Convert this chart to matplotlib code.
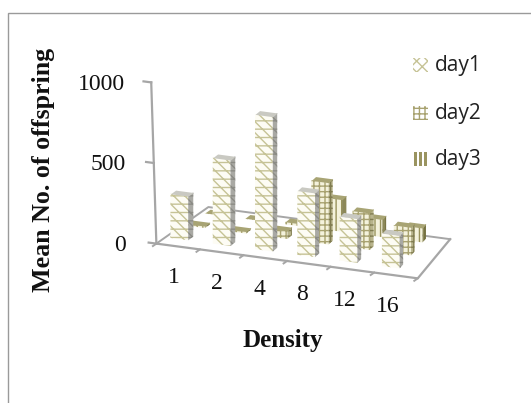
import matplotlib
matplotlib.use("Agg")
import matplotlib.pyplot as plt
from matplotlib.patches import Rectangle
from mpl_toolkits.mplot3d.art3d import Poly3DCollection

categories = ["1", "2", "4", "8", "12", "16"]
series_names = ["day1", "day2", "day3"]
day1 = [275, 535, 840, 400, 275, 205]
day2 = [12, 12, 50, 385, 230, 175]
day3 = [4, 4, 15, 200, 110, 90]
yticks = [0, 500, 1000]

W, H = 531, 403
plt.rcParams["hatch.linewidth"] = 1.0
fig = plt.figure(figsize=(W/100, H/100), dpi=100)
fig.patch.set_facecolor("white")
fig.add_artist(Rectangle((8/W, -0.01), 540/W, 1 - 13/H + 0.01, transform=fig.transFigure,
                         fill=False, ec="#9a9a9a", lw=1.0))

S = 560
cx, cy = 305.5, 170
ax = fig.add_axes([(cx - S/2)/W, 1 - (cy + S/2)/H, S/W, S/H], projection="3d", computed_zorder=False)
ax.set_proj_type("ortho")
ax.view_init(elev=17.8, azim=-66.5)
ax.set_box_aspect((284, 130, 168), zoom=0.617)
xmax = 6.1
ax.set_xlim(0, xmax); ax.set_ylim(0, 3); ax.set_zlim(0, 1000)
ax.set_xticks([]); ax.set_yticks([]); ax.set_zticks([])
ax.xaxis.set_visible(False); ax.yaxis.set_visible(False); ax.zaxis.set_visible(False)
ax.set_axis_off()
ax.patch.set_alpha(0)

styles = [
    dict(front="#fdfcf4", side="#a9a9a4", top="#c9c9c2", hatch="\\\\\\--", ec="#c6c396", side_ec="#8b8b85"),
    dict(front="#f4f2dc", side="#b8b48c", top="#a8a474", hatch="+++", ec="#a8a270", side_ec="#807c50"),
    dict(front="#f4f2dc", side="#8c8858", top="#a8a474", hatch="|||", ec="#98925c", side_ec="#6c6838"),
]
series = [day1, day2, day3]
w, d = 0.42, 0.3
depth_shrink = 0.025


def px(x, y):
    # the chart's depth foreshortening: columns and floor draw together towards the back
    return x * (1 - depth_shrink * y)


axis_color = "#a6a6a6"
nx, ny = len(categories), len(series)
tilt = 0.12
ax.plot([0, xmax, px(xmax, ny)], [0, 0, ny], [0, 0, 0], color=axis_color, lw=1.6, zorder=1)
ax.plot([0, 0, px(xmax, ny)], [0, ny, ny], [0, 0, 0], color=axis_color, lw=1.4, zorder=1)
ax.plot([0, -tilt], [0, 0], [0, 1000], color=axis_color, lw=1.6, zorder=1)
for t in yticks:
    tx = -tilt * t / 1000
    ax.plot([tx - 0.18, tx], [0, 0], [t, t], color=axis_color, lw=1.6, zorder=1)
for i in range(nx + 1):
    tx = i * xmax / nx
    ax.plot([tx, tx], [0, -0.2], [0, 0], color=axis_color, lw=1.4, zorder=1)

for s in range(ny - 1, -1, -1):
    st = styles[s]
    for c in range(nx):
        h = series[s][c]
        y0, y1 = s + 0.67 - d/2, s + 0.67 + d/2
        xc = c + 0.33
        x0, x1 = px(xc - w/2, y0), px(xc + w/2, y0)
        xb0, xb1 = px(xc - w/2, y1), px(xc + w/2, y1)
        z = 10 + (ny - s) * 100 + c * 10
        faces = [
            ([[(x0, y0, 0), (x1, y0, 0), (x1, y0, h), (x0, y0, h)]], st["front"], st["ec"], st["hatch"]),
            ([[(x1, y0, 0), (xb1, y1, 0), (xb1, y1, h), (x1, y0, h)]], st["side"], st["side_ec"], st["hatch"]),
            ([[(x0, y0, h), (x1, y0, h), (xb1, y1, h), (xb0, y1, h)]], st["top"], st["side_ec"], None),
        ]
        for verts, fc, ec, hatch in faces:
            p = Poly3DCollection(verts, facecolors=fc, edgecolors=ec, linewidths=0, hatch=hatch, zorder=z)
            ax.add_collection3d(p)

for i, lab in enumerate(categories):
    ax.text(i + 0.71, -0.75, -130, lab, family="Liberation Serif", fontsize=17, color="#111111",
            ha="center", va="center", zorder=900)
for t in yticks:
    ax.text(-0.72, 0, t - 35, str(t), family="Liberation Serif", fontsize=17, color="#111111",
            ha="right", va="center", zorder=900)

fig.text(44/W, 1 - 170/H, "Mean No. of offspring", family="Liberation Serif", fontweight="bold",
         fontsize=18.7, rotation=90, ha="center", va="center", color="#111111")
fig.text(283/W, 1 - 340/H, "Density", family="Liberation Serif", fontweight="bold",
         fontsize=18, ha="center", va="center", color="#111111")

leg_y = [65, 113, 159]
leg_hatch = ["xxx", "+++", None]
for s, (name, yy) in enumerate(zip(series_names, leg_y)):
    st = styles[s]
    if leg_hatch[s]:
        fig.add_artist(Rectangle((413/W, 1 - (yy + 7)/H), 15/W, 14/H, transform=fig.transFigure,
                                 facecolor="white", edgecolor=st["ec"], hatch=leg_hatch[s], lw=0))
    else:
        for k in range(3):
            fig.add_artist(Rectangle(((414 + k * 5)/W, 1 - (yy + 7)/H), 3/W, 14/H, transform=fig.transFigure,
                                     facecolor="#9a9460", lw=0))
    fig.text(435/W, 1 - yy/H, name, family="Open Sans", fontsize=15, ha="left", va="center", color="#222222")

fig.savefig("out.png", dpi=100)
